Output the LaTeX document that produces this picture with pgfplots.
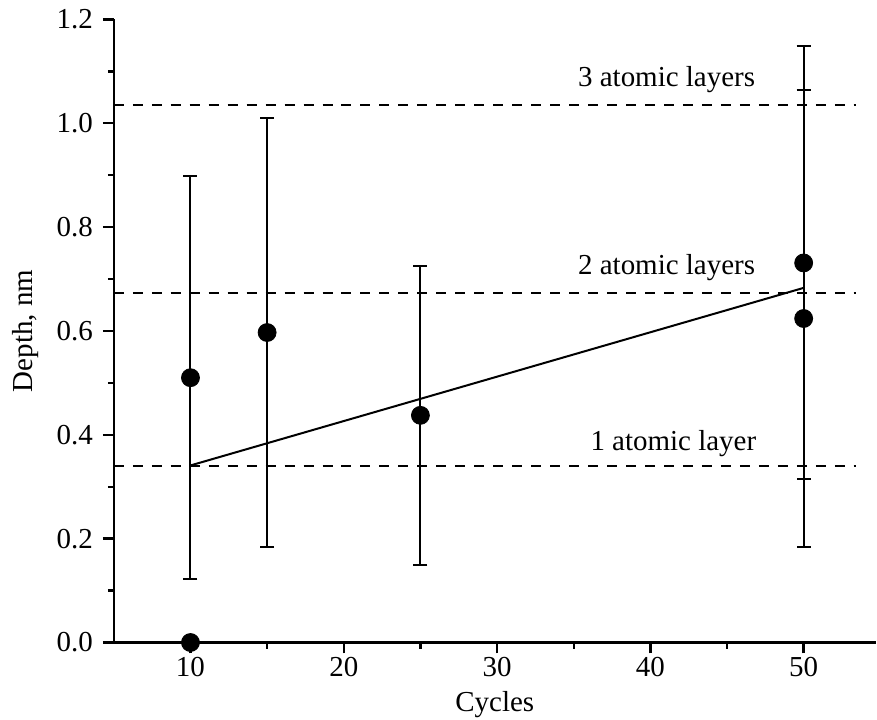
\documentclass[border=0pt]{standalone}
\usepackage{fontspec}
\setmainfont{Liberation Serif}
\usepackage{pgfplots}
\pgfplotsset{compat=1.18}

\pgfplotstableread{
x   y      e
10  0.510  0.388
15  0.597  0.413
25  0.4375 0.2875
50  0.731  0.417
50  0.624  0.441
}\depthdata

\begin{document}
\fontsize{14.5}{17}\selectfont
\begin{tikzpicture}[font=\fontsize{14.5}{17}\selectfont]
\begin{axis}[
    scale only axis,
    width=381.5pt, height=312pt,
    xmin=5, xmax=54.7,
    ymin=0, ymax=1.2,
    axis x line*=bottom, axis y line*=left,
    axis line style={line width=1.3pt, black},
    xtick={10,20,30,40,50}, minor x tick num=1,
    ytick={0,0.2,0.4,0.6,0.8,1.0,1.2}, minor y tick num=1,
    tick align=outside,
    major tick length=5.5pt, minor tick length=3pt,
    tick style={line width=1.2pt, black},
    /pgf/number format/assume math mode=true,
    yticklabel style={/pgf/number format/.cd, fixed, fixed zerofill, precision=1},
    xticklabel style={inner sep=1.5pt},
    xlabel={Cycles}, ylabel={Depth, nm},
    xlabel style={at={(axis description cs:0.5,0)}, anchor=center, inner sep=1pt, yshift=-31pt},
    ylabel style={at={(axis description cs:-0.116,0.5)}, anchor=center},
    clip=false,
]
\coordinate (bl) at (rel axis cs:0,0);
\coordinate (tr) at (rel axis cs:1,1);

% atomic layer levels
\addplot[black, line width=1pt, dash pattern=on 5pt off 4.5pt] coordinates {(5,1.035) (53.4,1.035)};
\addplot[black, line width=1pt, dash pattern=on 5pt off 4.5pt] coordinates {(5,0.674) (53.4,0.674)};
\addplot[black, line width=1pt, dash pattern=on 5pt off 4.5pt] coordinates {(5,0.340) (53.4,0.340)};

% linear fit
\addplot[black, line width=1pt] coordinates {(10,0.341) (50,0.683)};

% measured depths with error bars
\addplot[black, only marks, mark=*, mark size=4.5pt,
    error bars/.cd, y dir=both, y explicit,
    error bar style={line width=1pt, black},
    error mark options={line width=1pt, mark size=3.5pt, rotate=90, black}]
    table[x=x, y=y, y error=e] {\depthdata};
\addplot[black, only marks, mark=*, mark size=4.5pt] coordinates {(10,0.0)};

\node[anchor=base] at (axis cs:41.06,1.071) {3 atomic layers};
\node[anchor=base] at (axis cs:41.06,0.708) {2 atomic layers};
\node[anchor=base] at (axis cs:41.5,0.369) {1 atomic layer};
\end{axis}
\path (bl) ++(-57pt,-37pt);
\path (tr) ++(0,8.5pt);
\end{tikzpicture}
\end{document}
